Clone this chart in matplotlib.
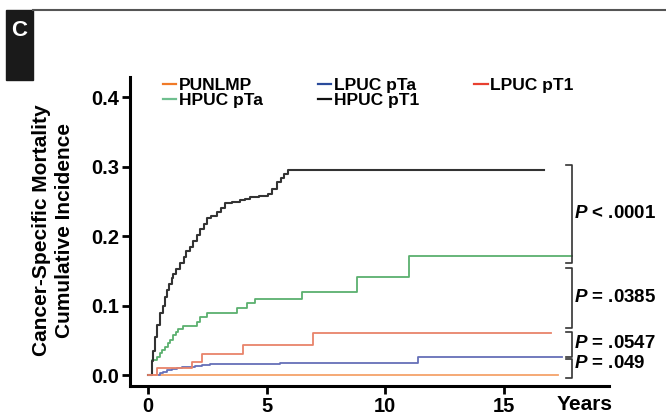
import matplotlib
matplotlib.use("Agg")
import matplotlib.pyplot as plt
from matplotlib.patches import Rectangle
from matplotlib.lines import Line2D

plt.rcParams['font.family'] = ['Liberation Sans', 'DejaVu Sans']
plt.rcParams['mathtext.fontset'] = 'custom'
plt.rcParams['mathtext.bfit'] = 'Liberation Sans:italic:bold'

# step curves (years, cumulative incidence)
punlmp_t = [0.05, 17.3]
punlmp_v = [0.0, 0.0]

lpuc_pta_t = [0.45, 0.51, 0.65, 0.79, 1.0, 1.21, 1.42, 1.77, 1.98, 2.27, 2.62, 5.57, 11.4, 17.45]
lpuc_pta_v = [0.0, 0.003, 0.005, 0.007, 0.008, 0.0096, 0.011, 0.012, 0.013, 0.015, 0.016, 0.018, 0.026, 0.026]

lpuc_pt1_t = [0.0, 0.37, 1.84, 2.27, 4.02, 6.95, 17.0]
lpuc_pt1_v = [0.0, 0.010, 0.019, 0.030, 0.043, 0.061, 0.061]

hpuc_pta_t = [0.10, 0.16, 0.37, 0.50, 0.58, 0.72, 0.85, 0.93, 1.07, 1.20, 1.28, 1.49,
              2.05, 2.19, 2.48, 3.74, 4.16, 4.51, 6.49, 8.81, 11.03, 17.9]
hpuc_pta_v = [0.0, 0.022, 0.026, 0.031, 0.036, 0.041, 0.046, 0.050, 0.058, 0.062, 0.066, 0.0705,
              0.077, 0.084, 0.089, 0.096, 0.103, 0.109, 0.120, 0.141, 0.171, 0.171]

hpuc_pt1_t = [0.0, 0.08, 0.15, 0.22, 0.30, 0.40, 0.51, 0.62, 0.72, 0.79, 0.90, 1.00, 1.07, 1.20,
              1.35, 1.50, 1.62, 1.77, 1.90, 2.05, 2.20, 2.35, 2.48, 2.65, 2.90, 3.10, 3.25, 3.55,
              3.88, 4.10, 4.30, 4.70, 5.08, 5.25, 5.43, 5.60, 5.75, 5.92, 16.7]
hpuc_pt1_v = [0.0, 0.0, 0.020, 0.035, 0.055, 0.072, 0.089, 0.100, 0.112, 0.122, 0.131, 0.140, 0.146,
              0.152, 0.161, 0.170, 0.178, 0.185, 0.193, 0.201, 0.210, 0.218, 0.226, 0.229, 0.235,
              0.240, 0.247, 0.249, 0.252, 0.254, 0.256, 0.258, 0.261, 0.268, 0.278, 0.283, 0.289,
              0.295, 0.295]

# comparison brackets: (top, bottom, label y, label)
brackets = [
    (0.303, 0.161, 0.233, '< .0001'),
    (0.154, 0.067, 0.112, '= .0385'),
    (0.062, 0.026, 0.046, '= .0547'),
    (0.023, -0.005, 0.017, '= .049'),
]

x_ticks = [0, 5, 10, 15]
y_ticks = [0.0, 0.1, 0.2, 0.3, 0.4]

# legend swatches are a bit more saturated than the curves
legend_colors = ['#f07a28', '#6fbf8f', '#2a4b9b', '#111111', '#e84030']

W, H = 666, 417
fig = plt.figure(figsize=(W / 100, H / 100), dpi=100)
ax = fig.add_axes([130 / W, 31 / H, 479 / W, 309 / H])

ax.step(punlmp_t, punlmp_v, where='post', color='#f5a36a', lw=1.3, label='PUNLMP')
ax.step(hpuc_pta_t, hpuc_pta_v, where='post', color='#5bb06e', lw=1.3, label='HPUC pTa')
ax.step(lpuc_pta_t, lpuc_pta_v, where='post', color='#6670b8', lw=1.3, label='LPUC pTa')
ax.step(hpuc_pt1_t, hpuc_pt1_v, where='post', color='#333333', lw=1.5, label='HPUC pT1')
ax.step(lpuc_pt1_t, lpuc_pt1_v, where='post', color='#e8836a', lw=1.3, label='LPUC pT1')

ax.set_xlim(-0.76, 19.45)
ax.set_ylim(-0.0158, 0.429)
ax.set_xticks(x_ticks)
ax.set_yticks(y_ticks)
ax.set_yticklabels(['%.1f' % v for v in y_ticks])
for s in ['top', 'right']:
    ax.spines[s].set_visible(False)
for s in ['left', 'bottom']:
    ax.spines[s].set_linewidth(2.2)
ax.tick_params(direction='out', length=6, width=2, labelsize=14.5, pad=2)
for lab in ax.get_xticklabels() + ax.get_yticklabels():
    lab.set_fontweight('bold')

# brackets and p values
for top, bot, ly, txt in brackets:
    ax.plot([17.64, 17.88, 17.88, 17.64], [top, top, bot, bot], color='#333333', lw=1.2,
            clip_on=False)
    ax.text(17.98, ly, r'$\mathbfit{P}$ ' + txt, fontsize=13.5, fontweight='bold',
            ha='left', va='center')

leg = ax.legend(loc='upper left', bbox_to_anchor=(163 / W, 1 - 78 / H),
                bbox_transform=fig.transFigure, ncol=3, frameon=False,
                prop={'weight': 'bold', 'size': 12.5}, handlelength=0.75,
                handletextpad=0.15, columnspacing=3.2, labelspacing=0.0,
                borderpad=0, borderaxespad=0)
for h, c in zip(leg.legend_handles, legend_colors):
    h.set_color(c)
    h.set_linewidth(1.6)

fig.text(53 / W, 1 - 230 / H, 'Cancer-Specific Mortality\nCumulative Incidence',
         rotation=90, ha='center', va='center', multialignment='center',
         fontsize=15, fontweight='bold', linespacing=1.2)
fig.text(585 / W, 1 - 405 / H, 'Years', ha='center', va='center',
         fontsize=15, fontweight='bold')

# panel label and header rule
fig.patches.append(Rectangle((6 / W, 1 - 80 / H), 27 / W, 70 / H,
                             transform=fig.transFigure, color='#1a1a1a'))
fig.text(19 / W, 1 - 30 / H, 'C', color='white', fontsize=16, fontweight='bold',
         ha='center', va='center')
fig.lines.append(Line2D([33 / W, 1], [1 - 10 / H, 1 - 10 / H], transform=fig.transFigure,
                        color='#555555', lw=1.5))

fig.savefig('out.png', dpi=100)
